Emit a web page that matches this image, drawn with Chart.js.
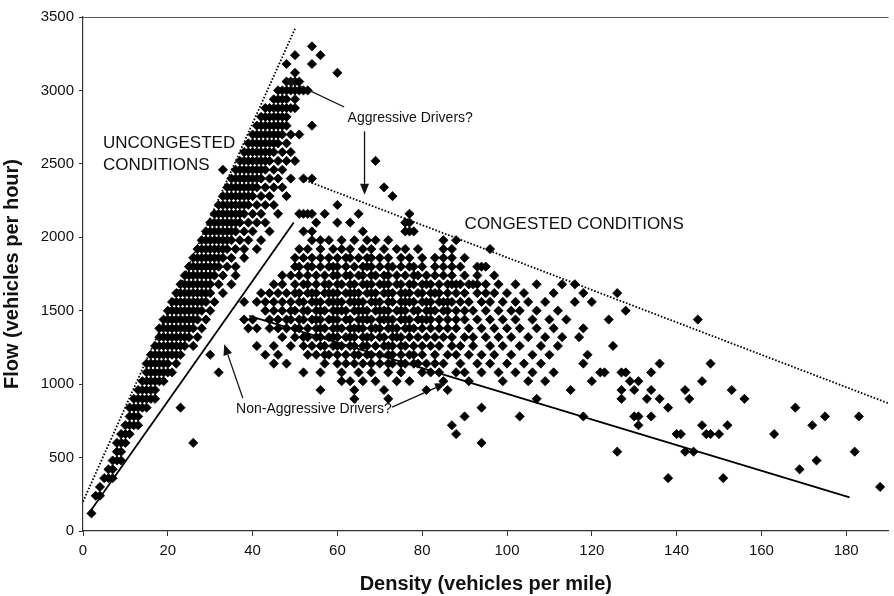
<!DOCTYPE html>
<html>
<head>
<meta charset="utf-8">
<title>Flow vs Density</title>
<script src="https://cdn.jsdelivr.net/npm/chart.js@4.4.1/dist/chart.umd.min.js"></script>
<style>
  html, body { margin: 0; padding: 0; background: #fff; }
  canvas { display: block; }
</style>
</head>
<body>
<canvas id="chart" width="894" height="596"></canvas>
<script>
// Uncongested observations: [flow, [densities observed at that flow]]
const freeFlowRows = [
  [120, [2]],
  [240, [3, 4]],
  [300, [4]],
  [360, [5, 6, 7]],
  [420, [6, 7]],
  [480, [7, 8, 9]],
  [540, [8, 9]],
  [600, [8, 9, 10, 26]],
  [660, [9, 10, 11]],
  [720, [10, 11, 12, 13]],
  [780, [11, 12, 13]],
  [840, [11, 12, 13, 14, 15, 23]],
  [900, [12, 13, 14, 15, 16, 17]],
  [960, [13, 14, 15, 16, 17]],
  [1020, [14, 15, 16, 17, 18, 19]],
  [1080, [15, 16, 17, 18, 19, 20, 21, 32]],
  [1140, [15, 16, 17, 18, 19, 20, 22]],
  [1200, [16, 17, 18, 19, 20, 21, 22, 23, 30]],
  [1260, [17, 18, 19, 20, 21, 22, 23, 24, 26]],
  [1320, [18, 19, 20, 21, 22, 23, 24, 25, 27]],
  [1380, [18, 19, 20, 21, 22, 23, 24, 25, 26, 28]],
  [1440, [19, 20, 21, 22, 23, 24, 25, 26, 27, 29]],
  [1500, [20, 21, 22, 23, 24, 25, 26, 27, 28, 30]],
  [1560, [21, 22, 23, 24, 25, 26, 27, 28, 29, 31]],
  [1620, [22, 23, 24, 25, 26, 27, 28, 29, 30, 33]],
  [1680, [23, 24, 25, 26, 27, 28, 29, 30, 32, 35]],
  [1740, [24, 25, 26, 27, 28, 29, 30, 31, 33, 36]],
  [1800, [25, 26, 27, 28, 29, 30, 31, 32, 34, 36]],
  [1860, [26, 27, 28, 29, 30, 31, 32, 33, 35, 38]],
  [1920, [27, 28, 29, 30, 31, 32, 33, 34, 36, 38, 41]],
  [1980, [28, 29, 30, 31, 32, 33, 34, 35, 37, 39, 42]],
  [2040, [29, 30, 31, 32, 33, 34, 35, 36, 38, 40, 44]],
  [2100, [30, 31, 32, 33, 34, 35, 36, 37, 39, 41, 43]],
  [2160, [31, 32, 33, 34, 35, 36, 37, 38, 40, 42, 46]],
  [2220, [32, 33, 34, 35, 36, 37, 38, 39, 41, 43, 45]],
  [2280, [33, 34, 35, 36, 37, 38, 39, 40, 42, 44, 48]],
  [2340, [34, 35, 36, 37, 38, 39, 40, 41, 43, 45, 47]],
  [2400, [35, 36, 37, 38, 39, 40, 41, 42, 44, 46, 49]],
  [2460, [33, 36, 37, 38, 39, 40, 41, 42, 43, 45, 47]],
  [2520, [37, 38, 39, 40, 41, 42, 43, 44, 46, 48, 50]],
  [2580, [38, 39, 40, 41, 42, 43, 44, 45, 47, 49]],
  [2640, [39, 40, 41, 42, 43, 44, 45, 46, 48]],
  [2700, [40, 41, 42, 43, 44, 45, 46, 47, 49, 51]],
  [2760, [41, 42, 43, 44, 45, 46, 47, 48, 54]],
  [2820, [42, 43, 44, 45, 46, 47, 48]],
  [2880, [43, 44, 45, 46, 47, 48, 49, 50]],
  [2940, [45, 46, 47, 48, 50]],
  [3000, [46, 47, 48, 49, 50, 51, 52, 53]],
  [3060, [48, 49, 50, 51]],
  [3120, [50, 60]],
  [3180, [48, 54]],
  [3240, [50, 56]],
  [3300, [54]]
];

// Congested observations: [flow, [densities observed at that flow]]
const congestedRows = [
  [2520, [69]],
  [2400, [52, 54]],
  [2340, [71]],
  [2280, [73]],
  [2220, [60]],
  [2160, [51, 52, 53, 54, 57, 65, 77]],
  [2100, [55, 60, 63, 76, 77]],
  [2040, [52, 54, 66, 76, 77, 78]],
  [1980, [54, 56, 58, 61, 64, 67, 69, 72, 85, 88]],
  [1920, [51, 53, 56, 59, 61, 63, 66, 68, 71, 74, 76, 79, 85, 87, 96]],
  [1860, [50, 52, 54, 56, 58, 60, 62, 63, 65, 67, 68, 70, 72, 75, 77, 80, 83, 85, 87, 90]],
  [1800, [50, 51, 53, 54, 56, 58, 59, 60, 62, 64, 66, 67, 68, 70, 72, 73, 75, 77, 78, 80, 83, 85, 87, 89, 93, 94, 95]],
  [1740, [47, 49, 51, 53, 55, 57, 59, 60, 62, 63, 65, 66, 68, 69, 71, 72, 74, 76, 78, 79, 81, 83, 85, 87, 90, 93, 97]],
  [1680, [45, 47, 50, 52, 53, 55, 57, 58, 60, 61, 63, 64, 66, 67, 68, 70, 71, 72, 74, 75, 77, 78, 80, 81, 82, 84, 86, 87, 88, 89, 91, 92, 93, 95, 98, 102, 107, 113, 116]],
  [1620, [42, 44, 46, 48, 50, 51, 53, 54, 55, 57, 58, 59, 60, 62, 63, 64, 65, 67, 68, 69, 71, 72, 73, 75, 76, 77, 79, 80, 82, 83, 84, 86, 88, 90, 93, 95, 97, 100, 104, 111, 118, 126]],
  [1560, [38, 41, 43, 45, 47, 49, 51, 52, 54, 55, 56, 58, 59, 60, 61, 63, 64, 65, 66, 68, 69, 70, 72, 73, 75, 76, 77, 78, 80, 81, 82, 84, 85, 86, 87, 89, 91, 94, 96, 99, 102, 105, 109, 116, 120]],
  [1500, [43, 45, 47, 49, 50, 52, 53, 55, 56, 57, 59, 60, 61, 62, 64, 65, 66, 67, 69, 70, 71, 72, 74, 75, 76, 78, 79, 81, 82, 83, 85, 86, 88, 90, 92, 95, 98, 101, 103, 107, 112, 128]],
  [1440, [38, 40, 44, 46, 48, 49, 51, 52, 54, 55, 56, 58, 59, 60, 62, 63, 65, 66, 67, 68, 70, 71, 72, 73, 75, 76, 77, 79, 80, 81, 82, 84, 86, 88, 90, 93, 96, 99, 102, 106, 110, 114, 124, 145]],
  [1380, [39, 41, 44, 46, 48, 50, 51, 53, 55, 56, 57, 59, 60, 61, 63, 64, 65, 66, 68, 69, 70, 72, 73, 74, 76, 77, 78, 80, 82, 84, 86, 88, 91, 94, 97, 100, 103, 107, 111, 118]],
  [1320, [47, 50, 52, 53, 55, 56, 58, 59, 60, 62, 63, 64, 66, 67, 68, 70, 71, 73, 74, 75, 77, 79, 81, 83, 85, 87, 90, 92, 95, 98, 101, 105, 109, 113, 117]],
  [1260, [41, 45, 49, 52, 54, 56, 57, 59, 60, 61, 63, 64, 66, 67, 69, 71, 72, 73, 75, 76, 78, 80, 82, 84, 87, 89, 92, 96, 99, 103, 108, 112, 125]],
  [1200, [43, 46, 53, 55, 57, 58, 60, 62, 64, 65, 67, 68, 70, 72, 73, 75, 77, 78, 80, 83, 86, 88, 91, 94, 97, 101, 106, 110, 119]],
  [1140, [45, 48, 57, 60, 62, 64, 66, 68, 70, 72, 73, 75, 76, 78, 79, 81, 83, 85, 89, 93, 96, 100, 104, 108, 118, 136, 148]],
  [1080, [52, 56, 61, 65, 68, 72, 75, 80, 82, 84, 88, 90, 94, 98, 102, 106, 111, 122, 123, 127, 128, 134]],
  [1020, [61, 63, 66, 69, 74, 77, 85, 91, 99, 105, 109, 120, 129, 131, 146]],
  [960, [56, 64, 71, 81, 86, 115, 127, 130, 134, 142, 153]],
  [900, [64, 72, 107, 127, 133, 136, 143, 156]],
  [840, [94, 138, 168]],
  [780, [90, 103, 118, 130, 131, 134, 175, 183]],
  [720, [87, 131, 146, 152, 172]],
  [660, [88, 140, 141, 147, 148, 150, 163]],
  [600, [94]],
  [540, [126, 142, 144, 182]],
  [480, [173]],
  [420, [169]],
  [360, [138, 151]],
  [300, [188]]
];

// Reference lines drawn over the scatter (density, flow)
const freeFlowUpperX = [0, 50];
const freeFlowUpperY = [200, 3420];
const freeFlowLowerX = [1.6, 49.7];
const freeFlowLowerY = [130, 2100];
const congestedUpperX = [52.4, 190];
const congestedUpperY = [2388, 869];
const congestedLowerX = [39.2, 180.8];
const congestedLowerY = [1465, 229];

// Axis ticks
const xTicks = [0, 20, 40, 60, 80, 100, 120, 140, 160, 180];
const yTicks = [0, 500, 1000, 1500, 2000, 2500, 3000, 3500];

const toPoints = rows => rows.flatMap(([flow, dens]) => dens.map(d => ({ x: d, y: flow })));
const toLine = (xs, ys) => xs.map((x, i) => ({ x: x, y: ys[i] }));

const FONT = 'Arial, "Liberation Sans", Helvetica, sans-serif';

// Text notes and arrows, in data units
const notes = [
  { text: 'UNCONGESTED', x: 4.7, y: 2605, size: 17 },
  { text: 'CONDITIONS', x: 4.7, y: 2456, size: 17 },
  { text: 'CONGESTED CONDITIONS', x: 90, y: 2059, size: 17 },
  { text: 'Aggressive Drivers?', x: 62.4, y: 2784, size: 14 },
  { text: 'Non-Aggressive Drivers?', x: 36.1, y: 803, size: 14 }
];
const arrows = [
  { from: [61.6, 2887], to: [47.4, 3082] },
  { from: [66.4, 2721], to: [66.4, 2290] },
  { from: [37.7, 905], to: [33.3, 1272] },
  { from: [72.9, 844], to: [85.6, 1007] }
];

const annotationPlugin = {
  id: 'notes',
  afterDatasetsDraw(chart) {
    const ctx = chart.ctx;
    const xs = chart.scales.x, ys = chart.scales.y;
    const area = chart.chartArea;
    ctx.save();
    // top frame line
    ctx.strokeStyle = '#555';
    ctx.lineWidth = 1;
    ctx.beginPath();
    ctx.moveTo(area.left, area.top + 0.5);
    ctx.lineTo(area.right, area.top + 0.5);
    ctx.stroke();

    ctx.fillStyle = '#111';
    ctx.textBaseline = 'alphabetic';
    ctx.textAlign = 'left';
    notes.forEach(n => {
      ctx.font = n.size + 'px ' + FONT;
      ctx.fillText(n.text, xs.getPixelForValue(n.x), ys.getPixelForValue(n.y));
    });

    ctx.strokeStyle = '#111';
    ctx.lineWidth = 1.3;
    arrows.forEach(a => {
      const x1 = xs.getPixelForValue(a.from[0]), y1 = ys.getPixelForValue(a.from[1]);
      const x2 = xs.getPixelForValue(a.to[0]), y2 = ys.getPixelForValue(a.to[1]);
      const ang = Math.atan2(y2 - y1, x2 - x1);
      const len = 11, half = 4.5;
      const bx = x2 - Math.cos(ang) * len, by = y2 - Math.sin(ang) * len;
      ctx.beginPath();
      ctx.moveTo(x1, y1);
      ctx.lineTo(bx, by);
      ctx.stroke();
      ctx.beginPath();
      ctx.moveTo(x2, y2);
      ctx.lineTo(bx - Math.sin(ang) * half, by + Math.cos(ang) * half);
      ctx.lineTo(bx + Math.sin(ang) * half, by - Math.cos(ang) * half);
      ctx.closePath();
      ctx.fill();
    });
    ctx.restore();
  }
};

const pointStyle = {
  pointStyle: 'rectRot',
  pointRadius: 4.6,
  pointBackgroundColor: '#000',
  pointBorderColor: '#000',
  pointBorderWidth: 0.8,
  showLine: false
};
const lineStyle = (dashed) => ({
  type: 'line',
  showLine: true,
  pointRadius: 0,
  borderColor: '#000',
  borderWidth: 1.8,
  borderDash: dashed ? [1.6, 1.8] : [],
  fill: false
});

new Chart(document.getElementById('chart'), {
  type: 'scatter',
  data: {
    datasets: [
      Object.assign({ label: 'Uncongested', data: toPoints(freeFlowRows) }, pointStyle),
      Object.assign({ label: 'Congested', data: toPoints(congestedRows) }, pointStyle),
      Object.assign({ label: 'Free flow upper', data: toLine(freeFlowUpperX, freeFlowUpperY) }, lineStyle(true)),
      Object.assign({ label: 'Free flow lower', data: toLine(freeFlowLowerX, freeFlowLowerY) }, lineStyle(false)),
      Object.assign({ label: 'Congested upper', data: toLine(congestedUpperX, congestedUpperY) }, lineStyle(true)),
      Object.assign({ label: 'Congested lower', data: toLine(congestedLowerX, congestedLowerY) }, lineStyle(false))
    ]
  },
  options: {
    responsive: false,
    animation: false,
    events: [],
    layout: { padding: { top: 17, right: 0, bottom: 0, left: 0 } },
    plugins: { legend: { display: false }, tooltip: { enabled: false } },
    scales: {
      x: {
        type: 'linear',
        min: 0,
        max: 190,
        afterBuildTicks: s => { s.ticks = xTicks.map(v => ({ value: v })); },
        afterFit: s => { s.height = 65; },
        grid: { drawOnChartArea: false, drawTicks: true, tickLength: 5, color: '#333' },
        border: { display: true, color: '#333', width: 1.2 },
        ticks: { color: '#111', font: { family: FONT, size: 15 }, padding: 6, maxRotation: 0, callback: v => String(v) },
        title: {
          display: true,
          text: 'Density (vehicles per mile)',
          color: '#111',
          font: { family: FONT, size: 20, weight: 'bold' },
          padding: { top: 0, bottom: 0 }
        }
      },
      y: {
        type: 'linear',
        min: 0,
        max: 3500,
        afterBuildTicks: s => { s.ticks = yTicks.map(v => ({ value: v })); },
        afterFit: s => { s.width = 83; },
        grid: { drawOnChartArea: false, drawTicks: true, tickLength: 4, color: '#333' },
        border: { display: true, color: '#333', width: 1.2 },
        ticks: { color: '#111', font: { family: FONT, size: 15 }, padding: 5, callback: v => String(v) },
        title: {
          display: true,
          text: 'Flow (vehicles per hour)',
          color: '#111',
          font: { family: FONT, size: 20, weight: 'bold' },
          padding: { top: 0, bottom: 0 }
        }
      }
    }
  },
  plugins: [annotationPlugin]
});
</script>
</body>
</html>
